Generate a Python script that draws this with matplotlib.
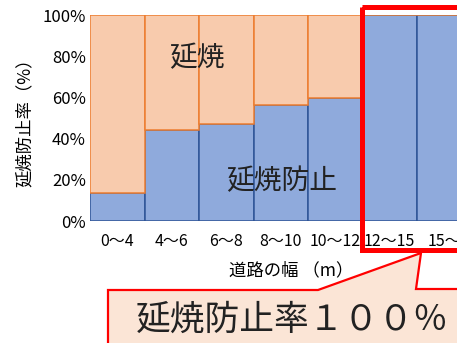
import matplotlib
matplotlib.use('Agg')
import matplotlib.pyplot as plt
from matplotlib.patches import Polygon

plt.rcParams['font.family'] = ['Noto Sans CJK JP', 'DejaVu Sans']

# road width classes and share of fires stopped (%)
categories = ['0～4', '4～6', '6～8', '8～10', '10～12', '12～15', '15～']
stopped = [13.6, 44.2, 47.1, 56.3, 59.7, 100, 100]
spread = [100 - v for v in stopped]

W, H = 457, 343
fig = plt.figure(figsize=(W / 100, H / 100), dpi=100)
ax = fig.add_axes([90 / W, 1 - 221 / H, 381.5 / W, 206 / H])

x = range(len(categories))
ax.bar(x, stopped, width=1.0, color='#8FAADC', edgecolor='#2F5597', linewidth=1.1)
ax.bar(x, spread, bottom=stopped, width=1.0, color='#F8CBAD', edgecolor='#ED7D31', linewidth=1.1)

ax.set_xlim(-0.5, len(categories) - 0.5)
ax.set_ylim(0, 100)
ax.set_yticks([0, 20, 40, 60, 80, 100])
ax.set_yticklabels(['0%', '20%', '40%', '60%', '80%', '100%'], fontsize=12)
ax.set_xticks(list(x))
ax.set_xticklabels(categories, fontsize=11.5)
ax.tick_params(length=0)
ax.tick_params(axis='x', pad=9)
ax.tick_params(axis='y', pad=3)
for s in ax.spines.values():
    s.set_visible(False)

ax.set_ylabel('延焼防止率（%）', fontsize=12.5, labelpad=6)

ax.text(1.46, 79, '延焼', fontsize=20, ha='center', va='center', color='#222222')
ax.text(3.02, 19.5, '延焼防止', fontsize=20, ha='center', va='center', color='#222222')

def px(pts):
    return [(a / W, 1 - b / H) for a, b in pts]

# x axis title
fig.text(291 / W, 1 - 270 / H, '道路の幅 （m）', fontsize=12.5, ha='center', va='center')

# red highlight frame
frame = Polygon(px([(361.5, 6.5), (480, 6.5), (480, 249.5), (361.5, 249.5)]), closed=True,
                fill=False, edgecolor='#FF0000', linewidth=3.6, transform=fig.transFigure)
fig.add_artist(frame)

# callout
callout = Polygon(px([(108, 290), (318, 290), (421, 253), (416, 289), (480, 289),
                      (480, 360), (108, 360)]), closed=True,
                  facecolor='#FBE5D6', edgecolor='#FF0000', linewidth=1.6,
                  transform=fig.transFigure)
fig.add_artist(callout)
fig.text(292 / W, 1 - 320 / H, '延焼防止率１００％', fontsize=25, ha='center', va='center',
         color='#222222')

fig.savefig('out.png', dpi=100)
